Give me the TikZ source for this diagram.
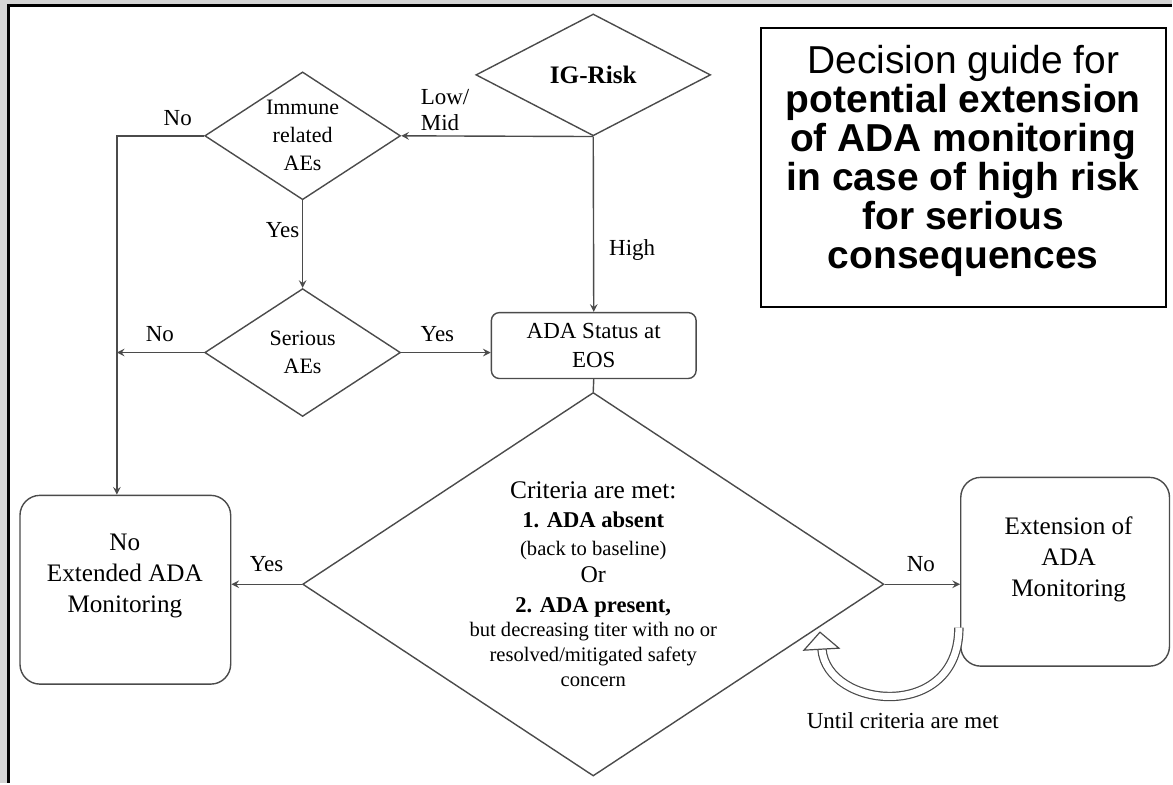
\documentclass[tikz,border=0pt]{standalone}
\usepackage{fontspec}
\setmainfont{Liberation Serif}
\newfontfamily\titlefont{Liberation Sans}
\usepackage{tikz}
\usetikzlibrary{arrows, shapes.geometric, positioning}
\tikzset{>=stealth}
\definecolor{framegray}{RGB}{212,212,212}
\definecolor{linegray}{RGB}{75,75,75}

\begin{document}
\begin{tikzpicture}[x=0.5pt, y=-0.5pt, >=stealth, line width=0.7pt, color=linegray,
  every node/.style={text=black},
  decision/.style={diamond, draw=linegray, inner sep=0pt, align=center},
  endbox/.style={rectangle, rounded corners=10pt, draw=linegray},
  boxtext/.style={align=center, font=\fontsize{12.6}{15.5}\selectfont},
  lbl/.style={font=\fontsize{11.5}{13}\selectfont}]
		\fill[framegray] (0,0) rectangle (1173,784);
		\fill[white] (9,6) rectangle (1173,784);
		\draw[black, line width=1.5pt] (9,784) -- (9,6) -- (1173,6);
		\useasboundingbox (0,0) rectangle (1173,784);

		\node[decision, aspect=1.93, minimum width=117.5pt, minimum height=61pt, font=\bfseries\fontsize{12.6}{14}\selectfont] (igrisk) at (594,75) {IG-Risk};
		\node[decision, aspect=1.53, minimum width=98pt, minimum height=64pt, font=\fontsize{11}{14}\selectfont] (immune) at (303,136) {Immune\\related\\AEs};
		\node[decision, aspect=1.53, minimum width=98pt, minimum height=64pt, font=\fontsize{11}{14}\selectfont] (serious) at (303,353) {Serious\\AEs};
		\node[rectangle, rounded corners=4pt, draw=linegray, minimum width=102.5pt, minimum height=33pt, align=center, font=\fontsize{11.5}{14.5}\selectfont] (adastatus) at (594.5,346) {ADA Status at\\EOS};
		\node[decision, aspect=1.51, minimum width=291pt, minimum height=192pt, font=\fontsize{10.3}{12.5}\selectfont] (criteria) at (594,585) {%
			{\fontsize{12.7}{13}\selectfont Criteria are met:}\\[2pt]
			{\fontsize{11.3}{13}\selectfont\bfseries 1. ADA absent}\\[1.5pt]
			(back to baseline)\\[1pt]
			{\fontsize{12}{13}\selectfont Or}\\[2.5pt]
			{\fontsize{11.3}{13}\selectfont\bfseries 2. ADA present,}\\
			but decreasing titer with no or\\
			resolved/mitigated safety\\
			concern};
		\node[endbox, minimum width=105.5pt, minimum height=94.5pt] (noext) at (125.5,590.5) {};
		\node[boxtext] (noexttext) at (125,577) {No\\Extended ADA\\Monitoring};
		\node[endbox, minimum width=104.5pt, minimum height=94.5pt] (ext) at (1066.5,572.5) {};
		\node[boxtext] (exttext) at (1070,560) {Extension of\\ADA\\Monitoring};
		\node[draw=black, line width=1pt, minimum width=202.5pt, minimum height=139.5pt] (guide) at (964.5,167.5) {};
		\node[align=center, font=\titlefont\fontsize{19.5}{19.5}\selectfont] (guidetext) at (964.5,161) {Decision guide for\\
			\textbf{potential extension}\\ \textbf{of ADA monitoring}\\ \textbf{in case of high risk}\\
			\textbf{for serious}\\ \textbf{consequences}};

		\coordinate (nocol) at (117,0);
		\draw [->] (igrisk.south) -- (immune.east);
		\draw [->] (igrisk.south) -- (adastatus.north);
		\draw [->] (immune.west) -| (nocol |- noext.north);
		\draw [->] (immune.south) -- (serious.north);
		\draw [->] (serious.west) -- (serious.west -| nocol);
		\draw [->] (serious.east) -- (serious.east -| adastatus.west);
		\draw (adastatus.south) -- (criteria.north);
		\draw [->] (criteria.west) -- (criteria.west -| noext.east);
		\draw [->] (criteria.east) -- (criteria.east -| ext.west);

		\node[lbl, align=left, anchor=west] (lowmid) at (414,110) {Low/\\Mid};
		\node[lbl] (high) at (633,250) {High};
		\node[lbl] (noimm) at (178,118) {No};
		\node[lbl] (yesimm) at (283,230) {Yes};
		\node[lbl] (noser) at (160,335) {No};
		\node[lbl] (yesser) at (438,335) {Yes};
		\node[lbl] (yescrit) at (267,565) {Yes};
		\node[lbl] (nocrit) at (922,565) {No};
		\node[lbl] (until) at (904,722) {Until criteria are met};

		\coordinate (loopend) at (823,650);
		\draw[double=white, double distance=3.5pt, line width=0.6pt] ([xshift=-0.6pt]ext.208) .. controls +(0,95) and +(5,60) .. (loopend);
		\filldraw[fill=white, line width=0.6pt] (821,633) -- (805,651) -- (840,649) -- cycle;
\end{tikzpicture}
\end{document}
